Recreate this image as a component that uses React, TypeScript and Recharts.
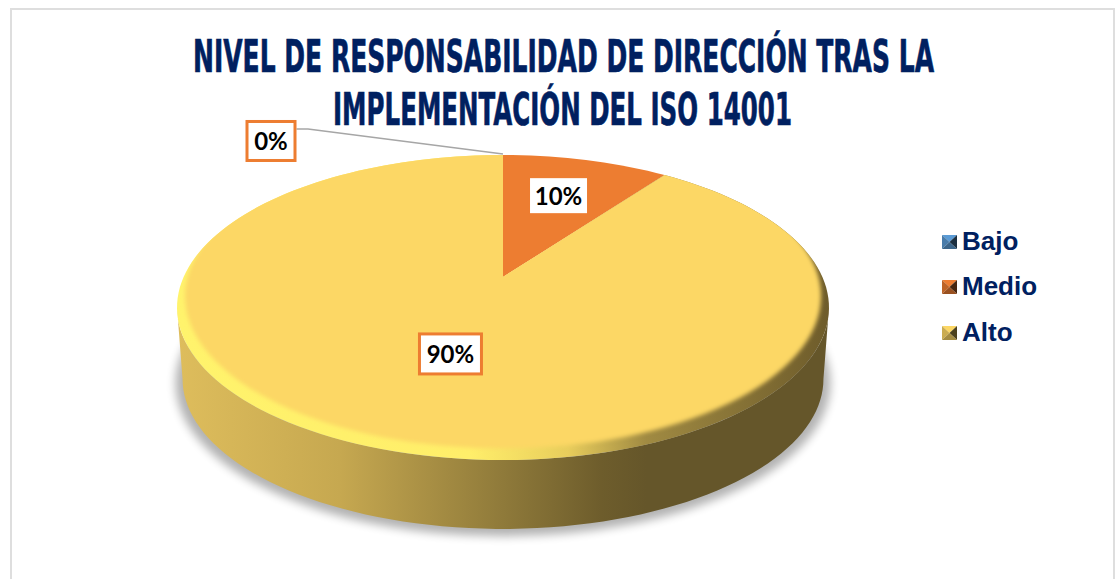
import React from "react";
import { PieChart, Pie, Legend } from "recharts";

const categories = ["Bajo", "Medio", "Alto"];
const values = [0, 10, 90];
const colors = ["#5B9BD5", "#ED7D31", "#FCD765"];
const titleLines = [
  "NIVEL DE RESPONSABILIDAD DE DIRECCIÓN TRAS LA",
  "IMPLEMENTACIÓN DEL ISO 14001",
];

const data = categories.map((name, i) => ({ name, value: values[i], fill: colors[i] }));

const NAVY = "#002060";
const ORANGE = "#ED7D31";
const RADIAN = Math.PI / 180;

// the 3d look: circle seen in perspective
const TILT = 0.4584;
const PERSP = -0.2;
const DEPTH = 71.5;
const BOTTOM_SCALE = 0.983;

const project = (cx: number, cy: number, R: number, deg: number, r = 1) => {
  const u = r * Math.cos(deg * RADIAN);
  const v = -r * Math.sin(deg * RADIAN);
  const d = 1 + PERSP * v;
  return [cx + (R * u) / d, cy + (R * TILT * v) / d];
};

const arcPoints = (cx: number, cy: number, R: number, from: number, to: number) => {
  const pts: number[][] = [];
  const steps = Math.max(1, Math.ceil(Math.abs(from - to) / 2));
  for (let i = 0; i <= steps; i++) {
    pts.push(project(cx, cy, R, from + ((to - from) * i) / steps));
  }
  return pts;
};

const toPath = (pts: number[][]) =>
  pts.map((p, i) => `${i ? "L" : "M"}${p[0].toFixed(2)} ${p[1].toFixed(2)}`).join(" ");

const PieSlice = (props: any) => {
  const { cx, cy, outerRadius: R, startAngle, endAngle, fill, name } = props;
  if (startAngle === endAngle) return null;

  const rim = arcPoints(cx, cy, R, startAngle, endAngle);
  const slicePath = `M${cx} ${cy} ${toPath(rim).replace("M", "L")} Z`;
  if (name !== "Alto") return <path d={slicePath} fill={fill} />;

  const rx = R / Math.sqrt(1 - PERSP * PERSP);
  const ry = (R * TILT) / (1 - PERSP * PERSP);
  const midY = cy + (R * TILT * -PERSP) / (1 - PERSP * PERSP);
  const lower = (p: number[]) => [
    cx + BOTTOM_SCALE * (p[0] - cx),
    midY + DEPTH + BOTTOM_SCALE * (p[1] - midY),
  ];

  const front = arcPoints(cx, cy, R, -11.5, -168.5);
  const wallPath = `${toPath(front)} ${toPath(front.map(lower).reverse()).replace("M", "L")} Z`;

  return (
    <g>
      <defs>
        <linearGradient id="wallFill" gradientUnits="userSpaceOnUse" x1={177} x2={829} y1={0} y2={0}>
          <stop offset="0" stopColor="#DEBD5C" />
          <stop offset="0.25" stopColor="#C6A850" />
          <stop offset="0.5" stopColor="#8F7A3A" />
          <stop offset="0.65" stopColor="#6E5D2C" />
          <stop offset="0.72" stopColor="#65562A" />
          <stop offset="1" stopColor="#65562A" />
        </linearGradient>
        <linearGradient id="bevelFill" gradientUnits="userSpaceOnUse" x1={177} x2={829} y1={0} y2={0}>
          <stop offset="0" stopColor="#FFF36C" />
          <stop offset="0.45" stopColor="#FFEE6A" />
          <stop offset="0.6" stopColor="#E8CD5C" />
          <stop offset="0.72" stopColor="#A08A42" />
          <stop offset="1" stopColor="#6E5C2B" />
        </linearGradient>
        <filter id="softShadow" x="-10%" y="-20%" width="120%" height="140%">
          <feGaussianBlur stdDeviation="5" />
        </filter>
        <filter id="softFace" x="-5%" y="-5%" width="110%" height="110%">
          <feGaussianBlur stdDeviation="2" />
        </filter>
        <clipPath id="altoClip">
          <path d={slicePath} />
        </clipPath>
        <clipPath id="shadowClip">
          <rect x={0} y={midY} width={1115} height={579} />
        </clipPath>
      </defs>
      <g clipPath="url(#shadowClip)">
        <ellipse
          cx={cx}
          cy={midY + DEPTH + 4}
          rx={rx * BOTTOM_SCALE * 1.022}
          ry={ry * BOTTOM_SCALE * 1.022}
          fill="#000"
          opacity={0.3}
          filter="url(#softShadow)"
        />
      </g>
      <path d={wallPath} fill="url(#wallFill)" />
      <path d={slicePath} fill="url(#bevelFill)" />
      <g clipPath="url(#altoClip)">
        <ellipse
          cx={cx}
          cy={midY - 11.5}
          rx={rx - 8}
          ry={ry}
          fill={fill}
          filter="url(#softFace)"
        />
      </g>
    </g>
  );
};

// label boxes, same order as categories
const labelBoxes = [
  { w: 51, h: 42, r: 1, dx: -232, dy: -14, border: true },
  { w: 60, h: 38, r: 0.63, dx: 0, dy: -3, border: false },
  { w: 65, h: 43, r: 0.5, dx: 2, dy: 0, border: true },
];

const renderLabel = (props: any) => {
  const { cx, cy, outerRadius, midAngle, percent, index } = props;
  const box = labelBoxes[index];
  const [ax, ay] = project(cx, cy, outerRadius, midAngle, box.r);
  const x = ax + box.dx;
  const y = ay + box.dy;
  return (
    <g key={index}>
      {index === 0 && (
        <polyline
          points={`${x + box.w / 2},${y - 12} ${x + 37},${y - 12} ${ax},${ay - 1}`}
          fill="none"
          stroke="#A6A6A6"
          strokeWidth={1.5}
        />
      )}
      <rect
        x={x - box.w / 2 + 1.5}
        y={y - box.h / 2 + 1.5}
        width={box.w - 3}
        height={box.h - 3}
        fill="#fff"
        stroke={box.border ? ORANGE : "#fff"}
        strokeWidth={box.border ? 3 : 0}
      />
      <text
        x={x}
        y={y + 9.5}
        textAnchor="middle"
        fontFamily="Lato, 'Open Sans', sans-serif"
        fontWeight={700}
        fontSize={24}
        fill="#000"
      >
        {`${Math.round(percent * 100)}%`}
      </text>
    </g>
  );
};

const shade = (hex: string, k: number) => {
  const n = parseInt(hex.slice(1), 16);
  const c = [(n >> 16) & 255, (n >> 8) & 255, n & 255].map((v) => Math.round(v * k));
  return `rgb(${c[0]},${c[1]},${c[2]})`;
};

const LegendList = ({ payload }: any) => (
  <div>
    {(payload || []).map((item: any) => (
      <div key={item.value} style={{ display: "flex", alignItems: "center", height: 45.5 }}>
        <svg width={15} height={14} style={{ marginRight: 5, marginTop: 2 }}>
          <polygon points="0,0 15,0 7.5,7" fill={shade(item.color, 1)} />
          <polygon points="0,0 7.5,7 0,14" fill={shade(item.color, 0.8)} />
          <polygon points="15,0 7.5,7 15,14" fill={shade(item.color, 0.3)} />
          <polygon points="0,14 7.5,7 15,14" fill={shade(item.color, 0.65)} />
        </svg>
        <span
          style={{
            fontFamily: "'Liberation Sans', Arial, sans-serif",
            fontWeight: 700,
            fontSize: 26,
            lineHeight: "28px",
            color: NAVY,
          }}
        >
          {item.value}
        </span>
      </div>
    ))}
  </div>
);

const titleSpans = [
  { x: 193, w: 741, y: 72 },
  { x: 333, w: 459, y: 125 },
];

export default function App() {
  return (
    <div
      style={{
        position: "absolute",
        left: 0,
        top: 0,
        width: 1115,
        height: 579,
        overflow: "hidden",
        background: "#fff",
      }}
    >
      <div
        style={{
          position: "absolute",
          left: 10,
          top: 8,
          width: 1101,
          height: 600,
          border: "2px solid #DEDEDE",
        }}
      />
      <PieChart width={1115} height={579} margin={{ top: 0, right: 0, bottom: 0, left: 0 }}>
        {titleLines.map((line, i) => (
          <text
            key={line}
            transform={`translate(${titleSpans[i].x} ${titleSpans[i].y}) scale(1 1.32)`}
            textLength={titleSpans[i].w}
            lengthAdjust="spacingAndGlyphs"
            fontFamily="'Liberation Sans Narrow', 'DejaVu Sans Condensed', sans-serif"
            fontWeight={700}
            fontSize={34}
            fill={NAVY}
            stroke={NAVY}
            strokeWidth={0.5}
          >
            {line}
          </text>
        ))}
        <Pie
          data={data}
          dataKey="value"
          nameKey="name"
          cx={503}
          cy={277}
          outerRadius={319.4}
          startAngle={90}
          endAngle={-270}
          stroke="none"
          labelLine={false}
          label={renderLabel}
          shape={PieSlice}
          isAnimationActive={false}
        />
        <Legend
          layout="vertical"
          align="right"
          verticalAlign="top"
          itemSorter={null}
          wrapperStyle={{ left: 942, top: 218, width: 140, right: "auto" }}
          content={LegendList}
        />
      </PieChart>
    </div>
  );
}
